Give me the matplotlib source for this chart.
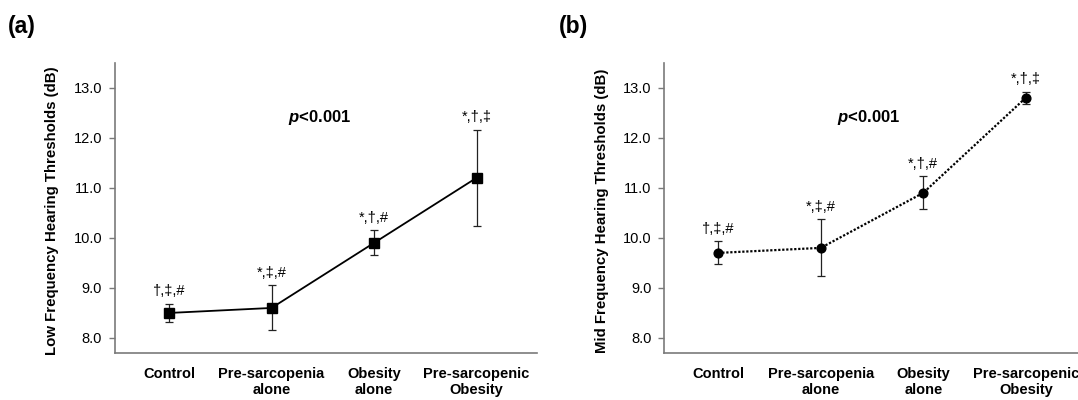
import matplotlib
matplotlib.use('Agg')
import matplotlib.pyplot as plt

plt.rcParams['font.family'] = ['Liberation Sans', 'DejaVu Sans']
plt.rcParams['mathtext.fontset'] = 'custom'
plt.rcParams['mathtext.rm'] = 'Liberation Sans'
plt.rcParams['mathtext.bf'] = 'Liberation Sans:bold'
plt.rcParams['mathtext.bfit'] = 'Liberation Sans:bold:italic'

# ── data ─────────────────────────────────────────────
groups = ['Control', 'Pre-sarcopenia\nalone', 'Obesity\nalone', 'Pre-sarcopenic\nObesity']

low_mean = [8.5, 8.6, 9.9, 11.2]
low_err = [0.18, 0.45, 0.25, 0.96]
low_marks = ['†,‡,#', '*,‡,#', '*,†,#', '*,†,‡']

mid_mean = [9.7, 9.8, 10.9, 12.8]
mid_err = [0.23, 0.57, 0.33, 0.12]
mid_marks = ['†,‡,#', '*,‡,#', '*,†,#', '*,†,‡']

yticks = [8.0, 9.0, 10.0, 11.0, 12.0, 13.0]
p_text = r'$\mathbfit{p}$<0.001'

SPINE = '#7a7a7a'

fig = plt.figure(figsize=(10.78, 4), dpi=100)
ax_a = fig.add_axes([0.1067, 0.1175, 0.3915, 0.7258])
ax_b = fig.add_axes([0.6162, 0.1175, 0.3915, 0.7258])


def draw_panel(ax, means, errs, marks, marker, ls, ylabel):
    xs = list(range(len(groups)))
    ax.plot(xs, means, color='black', linestyle=ls, linewidth=1.3 if ls == '-' else 1.6,
            zorder=2)
    ax.errorbar(xs, means, yerr=errs, fmt='none', ecolor='#222222', elinewidth=0.9,
                capsize=2.6, capthick=0.9, zorder=3)
    ax.plot(xs, means, linestyle='none', marker=marker, markersize=6.5 if marker == 's' else 6.3,
            color='black', zorder=4)
    for x, m, e, t in zip(xs, means, errs, marks):
        ax.annotate(t, xy=(x, m + e), xytext=(0, 9), textcoords='offset points',
                    ha='center', va='center', fontsize=10.5)
    ax.text(1.47, 12.4, p_text, ha='center', va='center', fontsize=12,
            fontweight='bold')

    ax.set_xlim(-0.527, 3.59)
    ax.set_ylim(7.7, 13.5)
    ax.set_xticks(xs)
    ax.set_xticklabels(groups, fontsize=10.5, fontweight='bold')
    ax.set_yticks(yticks)
    ax.set_yticklabels([f'{v:.1f}' for v in yticks], fontsize=10.5)
    ax.tick_params(axis='x', length=0, pad=10)
    ax.tick_params(axis='y', length=4.3, width=1.0, color=SPINE, pad=5)
    for s in ['top', 'right']:
        ax.spines[s].set_visible(False)
    for s in ['left', 'bottom']:
        ax.spines[s].set_color(SPINE)
        ax.spines[s].set_linewidth(1.2)
    ax.set_ylabel(ylabel, fontsize=10.8, fontweight='bold')
    ax.yaxis.set_label_coords(-0.132, 0.49)


draw_panel(ax_a, low_mean, low_err, low_marks, 's', '-',
           'Low Frequency Hearing Thresholds (dB)')
draw_panel(ax_b, mid_mean, mid_err, mid_marks, 'o', (0, (1, 0.8)),
           'Mid Frequency Hearing Thresholds (dB)')

fig.text(0.0074, 0.9325, '(a)', fontsize=16.5, fontweight='bold', ha='left', va='center')
fig.text(0.5186, 0.9325, '(b)', fontsize=16.5, fontweight='bold', ha='left', va='center')

fig.savefig('out.png', dpi=100)
